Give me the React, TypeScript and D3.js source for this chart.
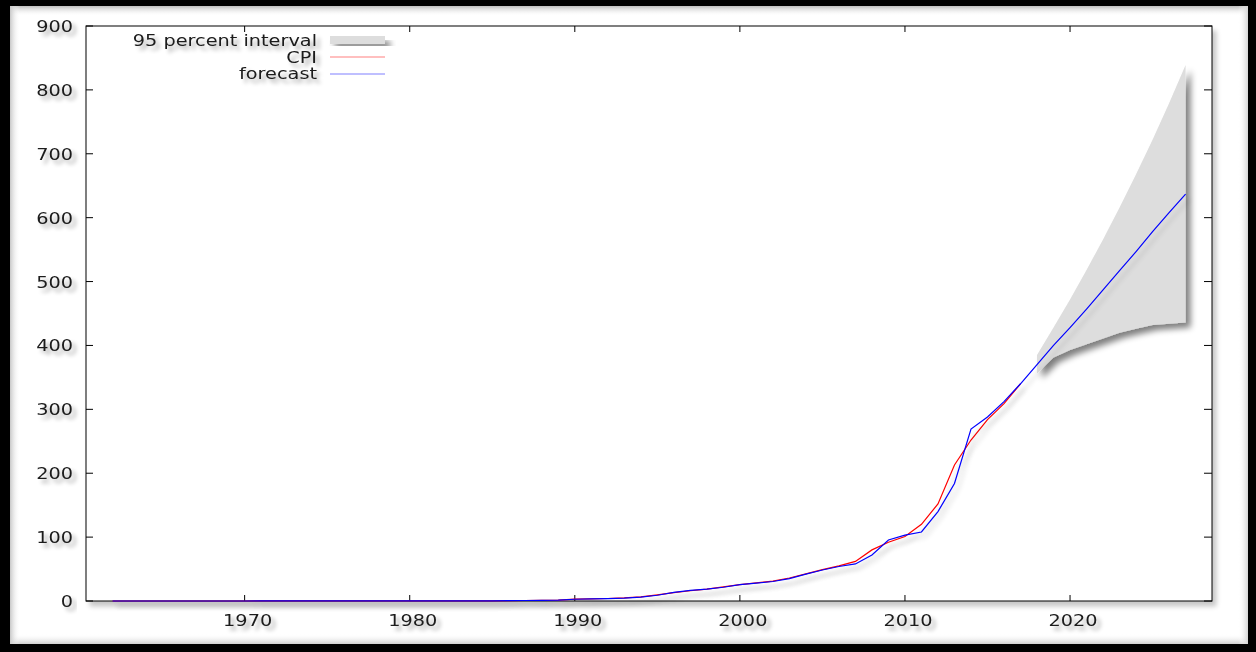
import React from "react";
import * as d3 from "d3";

const cpiYears: number[] = d3.range(1962, 2018);
const cpiValues: number[] = [
  0.02, 0.02, 0.02, 0.03, 0.03, 0.03, 0.03, 0.03, 0.03, 0.04, 0.04, 0.05, 0.06, 0.07,
  0.08, 0.1, 0.11, 0.13, 0.15, 0.18, 0.2, 0.24, 0.28, 0.3,
  0.5, 0.8, 1.0, 1.4, 2.8, 3.3, 3.9, 4.8, 6.5, 9.5,
  13, 16, 18.5, 22, 25.5, 28.5, 31, 36, 42.5, 49, 55, 62,
  80, 92, 101, 120, 152, 213, 252, 284, 309, 340,
];

const fcYears: number[] = d3.range(1962, 2028);
const fcValues: number[] = [
  0.02, 0.02, 0.02, 0.03, 0.03, 0.03, 0.03, 0.03, 0.03, 0.04, 0.04, 0.05, 0.06, 0.07,
  0.08, 0.1, 0.11, 0.13, 0.15, 0.18, 0.2, 0.24, 0.28, 0.3,
  0.5, 0.8, 1.0, 1.4, 2.7, 3.2, 3.8, 4.6, 6.0, 9.0,
  13.5, 16.5, 18.5, 21.5, 25.5, 28, 30.5, 35, 42, 48.5, 54, 58,
  72, 95.5, 103, 108, 140, 184, 269, 288, 312, 340,
  370, 400, 428, 457, 487, 517, 547, 578, 608, 637,
];

const bandYears: number[] = d3.range(2018, 2028);
const bandUpper: number[] = [385, 428, 472, 518, 566, 616, 668, 722, 779, 839];
const bandLower: number[] = [356, 381, 393, 402, 411, 420, 426, 432, 434, 436];

const xTicks: number[] = [1970, 1980, 1990, 2000, 2010, 2020];
const yTicks: number[] = [0, 100, 200, 300, 400, 500, 600, 700, 800, 900];

const legendLabels: string[] = ["95 percent interval", "CPI", "forecast"];

const W = 1256;
const H = 652;
const L = 86;
const R = 1212;
const T = 26;
const B = 601;
const FONT = "'DejaVu Sans', Verdana, sans-serif";
const SX = 1.17;

export default function App() {
  const x = d3.scaleLinear().domain([1960.39, 2028.6]).range([L, R]);
  const y = d3.scaleLinear().domain([0, 900]).range([B, T]);

  const line = d3
    .line<[number, number]>()
    .x((d) => x(d[0]))
    .y((d) => y(d[1]));

  const cpiPts: [number, number][] = cpiYears.map((yr, i) => [yr, cpiValues[i]]);
  const fcPts: [number, number][] = fcYears.map((yr, i) => [yr, fcValues[i]]);

  const area = d3
    .area<number>()
    .x((_, i) => x(bandYears[i]))
    .y0((_, i) => y(bandLower[i]))
    .y1((_, i) => y(bandUpper[i]));

  const txt = (
    key: string,
    tx: number,
    ty: number,
    s: string,
    anchor: "start" | "middle" | "end",
    baseline: string = "auto"
  ) => (
    <text
      key={key}
      transform={`translate(${tx},${ty}) scale(${SX},1)`}
      textAnchor={anchor}
      dominantBaseline={baseline}
      fontFamily={FONT}
      fontSize={16.5}
      fill="#1a1a1a"
      filter="url(#tshadow)"
    >
      {s}
    </text>
  );

  return (
    <svg
      width={W}
      height={H}
      style={{ position: "absolute", left: 0, top: 0, display: "block" }}
    >
      <defs>
        <filter id="tshadow" x="-20%" y="-40%" width="150%" height="200%">
          <feGaussianBlur in="SourceAlpha" stdDeviation="2" result="b" />
          <feOffset in="b" dx="3" dy="4" result="o" />
          <feComponentTransfer in="o" result="s">
            <feFuncA type="linear" slope="0.35" />
          </feComponentTransfer>
          <feMerge>
            <feMergeNode in="s" />
            <feMergeNode in="SourceGraphic" />
          </feMerge>
        </filter>
        <filter id="lshadow" x="-10%" y="-10%" width="130%" height="130%">
          <feGaussianBlur in="SourceAlpha" stdDeviation="2.5" result="b" />
          <feOffset in="b" dx="4" dy="5" result="o" />
          <feComponentTransfer in="o" result="s">
            <feFuncA type="linear" slope="0.22" />
          </feComponentTransfer>
          <feMerge>
            <feMergeNode in="s" />
            <feMergeNode in="SourceGraphic" />
          </feMerge>
        </filter>
        <filter id="bshadow" x="-10%" y="-10%" width="130%" height="130%">
          <feGaussianBlur in="SourceAlpha" stdDeviation="3" result="b" />
          <feOffset in="b" dx="5" dy="5" result="o" />
          <feComponentTransfer in="o" result="s">
            <feFuncA type="linear" slope="0.5" />
          </feComponentTransfer>
          <feMerge>
            <feMergeNode in="s" />
            <feMergeNode in="SourceGraphic" />
          </feMerge>
        </filter>
        <linearGradient id="gTop" x1="0" y1="0" x2="0" y2="1">
          <stop offset="0" stopColor="#bdbdbd" />
          <stop offset="1" stopColor="#fff" stopOpacity="0" />
        </linearGradient>
        <linearGradient id="gBot" x1="0" y1="1" x2="0" y2="0">
          <stop offset="0" stopColor="#cfcfcf" />
          <stop offset="1" stopColor="#fff" stopOpacity="0" />
        </linearGradient>
        <linearGradient id="gLeft" x1="0" y1="0" x2="1" y2="0">
          <stop offset="0" stopColor="#c8c8c8" />
          <stop offset="1" stopColor="#fff" stopOpacity="0" />
        </linearGradient>
        <linearGradient id="gRight" x1="1" y1="0" x2="0" y2="0">
          <stop offset="0" stopColor="#d4d4d4" />
          <stop offset="1" stopColor="#fff" stopOpacity="0" />
        </linearGradient>
      </defs>

      {/* frame */}
      <rect x={0} y={0} width={W} height={H} fill="#000" />
      <rect x={10} y={6} width={1238} height={638} fill="#fff" />
      <rect x={10} y={6} width={1238} height={10} fill="url(#gTop)" />
      <rect x={10} y={634} width={1238} height={10} fill="url(#gBot)" />
      <rect x={10} y={6} width={10} height={638} fill="url(#gLeft)" />
      <rect x={1238} y={6} width={10} height={638} fill="url(#gRight)" />

      {/* plot box */}
      <rect
        x={L}
        y={T}
        width={R - L}
        height={B - T}
        fill="#fff"
        stroke="#000"
        strokeWidth={1}
        filter="url(#lshadow)"
      />

      {/* ticks */}
      {xTicks.map((t) => (
        <g key={"xt" + t} stroke="#000" strokeWidth={1}>
          <line x1={x(t)} x2={x(t)} y1={B} y2={B - 6} />
          <line x1={x(t)} x2={x(t)} y1={T} y2={T + 6} />
        </g>
      ))}
      {yTicks.map((t) => (
        <g key={"yt" + t} stroke="#000" strokeWidth={1}>
          <line x1={L} x2={L + 7} y1={y(t)} y2={y(t)} />
          <line x1={R} x2={R - 8} y1={y(t)} y2={y(t)} />
        </g>
      ))}

      {/* tick labels */}
      {xTicks.map((t) => txt("xl" + t, x(t) + 3, B + 19, String(t), "middle", "central"))}
      {yTicks.map((t) => txt("yl" + t, 73, y(t), String(t), "end", "central"))}

      {/* band */}
      <path d={area(bandYears) || ""} fill="#dddddd" filter="url(#bshadow)" />

      {/* lines */}
      <path
        d={line(cpiPts) || ""}
        fill="none"
        stroke="#ff0000"
        strokeWidth={1.2}
        filter="url(#lshadow)"
      />
      <path
        d={line(fcPts) || ""}
        fill="none"
        stroke="#0000ff"
        strokeWidth={1.2}
        filter="url(#lshadow)"
      />

      {/* legend */}
      {txt("lg0", 317, 46, legendLabels[0], "end")}
      {txt("lg1", 317, 62.5, legendLabels[1], "end")}
      {txt("lg2", 317, 79, legendLabels[2], "end")}
      <rect x={330} y={36} width={55} height={8} fill="#dddddd" filter="url(#bshadow)" />
      <line x1={330} x2={385} y1={57} y2={57} stroke="#ff0000" strokeOpacity={0.5} strokeWidth={1.2} />
      <line x1={330} x2={385} y1={74} y2={74} stroke="#0000ff" strokeOpacity={0.5} strokeWidth={1.2} />
    </svg>
  );
}
